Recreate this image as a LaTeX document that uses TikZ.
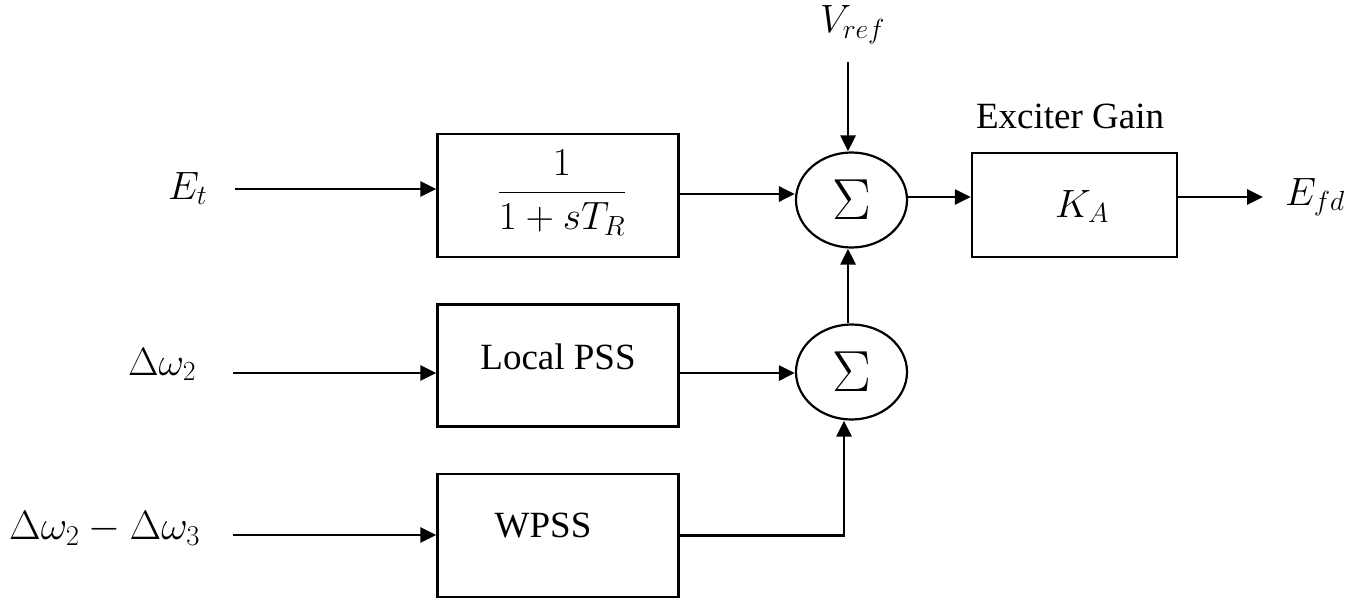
\RequirePackage{fix-cm}
\documentclass[tikz,border=0pt]{standalone}
\usepackage[no-math]{fontspec}
\setmainfont{Liberation Serif}
\usetikzlibrary{arrows.meta,shapes.geometric}

\newcommand{\sig}{{\fontsize{58}{62}\selectfont$\Sigma$}}

\tikzset{
  blockbox/.style={draw, line width=2.5pt, minimum width=241pt, inner sep=0pt},
  sumnode/.style={draw, ellipse, line width=2.2pt, minimum width=111pt, minimum height=95pt, inner sep=0pt},
  sig/.style={inner sep=0pt, font=\fontsize{39.5}{46}\selectfont},
  txt/.style={inner sep=0pt, font=\fontsize{37}{44}\selectfont},
  arr/.style={line width=2.9pt, -{Triangle[length=16pt,width=15pt]}}
}

\begin{document}
\begin{tikzpicture}[x=1pt,y=-1pt]
\path[use as bounding box] (0,0) rectangle (1360,599);

% blocks
\node[blockbox, minimum height=123pt] (box1) at (558,195.5) {};
\node[blockbox, minimum height=122pt] (box2) at (558,365.5) {};
\node[blockbox, minimum height=123pt] (box3) at (558,535.5) {};
\node[blockbox, minimum width=205pt, minimum height=104pt] (ka) at (1074.5,205) {};

% summing junctions
\node[sumnode] (sum1) at (851.5,200) {\sig};
\node[sumnode] (sum2) at (851.5,372) {\sig};

% block contents
\node[sig, anchor=base] (tf) at (562,202) {$\displaystyle\frac{1}{1+sT_R}$};
\node[txt, anchor=base] (tloc) at (558,369) {Local PSS};
\node[txt, anchor=base] (twp) at (543,537) {WPSS};
\node[sig, anchor=base] (tka) at (1082,217) {$K_A$};
\node[txt, anchor=base] (tgain) at (1070,129) {Exciter Gain};

% signals
\node[sig, anchor=base west] (et) at (168,199) {$E_t$};
\node[sig, anchor=base west] (dw2) at (128,375) {$\Delta\omega_2$};
\node[sig, anchor=base west, font=\fontsize{41}{48}\selectfont] (dw23) at (9,539) {$\Delta\omega_2-\Delta\omega_3$};
\node[sig, anchor=base west] (vref) at (820,33) {$V_{ref}$};
\node[sig, anchor=base west] (efd) at (1285,205) {$E_{fd}$};

% line start points
\coordinate (in1) at (235,189);
\coordinate (in2) at (233,373);
\coordinate (in3) at (233,535);
\coordinate (vin) at (848,62);
\coordinate (out) at (1263,197);

% connectors
\draw[arr] (in1) -- (in1 -| box1.west);
\draw[arr] (in2) -- (in2 -| box2.west);
\draw[arr] (in3) -- (in3 -| box3.west);
\draw[arr] ([yshift=1.5pt]box1.east) -- ([yshift=1.5pt]box1.east -| sum1.west);
\draw[arr] (in2 -| box2.east) -- (in2 -| sum2.west);
\draw[arr] (box3.east) -| ([xshift=-7.5pt]sum2.south);
\draw[arr] ([xshift=-3.5pt]sum2.north) -- ([xshift=-3.5pt]sum1.south);
\draw[arr] (vin) -- (vin |- sum1.north);
\draw[arr] (out -| sum1.east) -- (out -| ka.west);
\draw[arr] (out -| ka.east) -- (out);
\end{tikzpicture}
\end{document}
